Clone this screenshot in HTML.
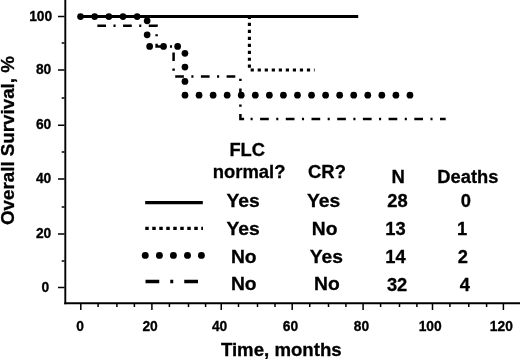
<!DOCTYPE html><html><head><meta charset="utf-8"><title>Overall Survival</title>
<style>html,body{margin:0;padding:0;background:#fff}svg{display:block}text{stroke:#000;stroke-width:0.3px;font-family:"Liberation Sans",Arial,Helvetica,sans-serif;font-weight:bold;fill:#000}</style></head><body>
<svg width="520" height="359" viewBox="0 0 520 359">
<rect width="520" height="359" fill="#fff"/>
<g stroke="#000" fill="none">
<path d="M65.3 0V304.3" stroke-width="1.9"/>
<path d="M64.3 303.35H520" stroke-width="2"/>
<path d="M58 287.50H64.5M61.7 260.90H64.5M58 234.00H64.5M61.7 207.10H64.5M58 179.00H64.5M61.7 152.10H64.5M58 125.25H64.5M61.7 98.10H64.5M58 70.00H64.5M61.7 43.10H64.5M58 16.50H64.5" stroke-width="1.5"/>
<path d="M80.80 303.5V310M98.10 303.5V307M116.90 303.5V307M134.40 303.5V307M151.90 303.5V310M169.40 303.5V307M188.50 303.5V307M205.60 303.5V307M221.25 303.5V310M238.50 303.5V307M257.50 303.5V307M275.00 303.5V307M292.20 303.5V310M309.75 303.5V307M328.50 303.5V307M345.90 303.5V307M363.10 303.5V310M380.60 303.5V307M399.50 303.5V307M416.90 303.5V307M432.50 303.5V310M449.90 303.5V307M468.80 303.5V307M486.60 303.5V307M503.40 303.5V310" stroke-width="1.5"/>
</g>
<text x="49.20" y="291.60" font-size="13.8" text-anchor="end">0</text>
<text x="51.30" y="238.10" font-size="13.8" text-anchor="end">20</text>
<text x="51.30" y="183.10" font-size="13.8" text-anchor="end">40</text>
<text x="51.30" y="129.35" font-size="13.8" text-anchor="end">60</text>
<text x="51.30" y="74.10" font-size="13.8" text-anchor="end">80</text>
<text x="52.20" y="20.60" font-size="13.8" text-anchor="end">100</text>
<text x="80.00" y="331.0" font-size="13.8" text-anchor="middle">0</text>
<text x="150.10" y="331.0" font-size="13.8" text-anchor="middle">20</text>
<text x="219.60" y="331.0" font-size="13.8" text-anchor="middle">40</text>
<text x="290.40" y="331.0" font-size="13.8" text-anchor="middle">60</text>
<text x="361.50" y="331.0" font-size="13.8" text-anchor="middle">80</text>
<text x="430.20" y="331.0" font-size="13.8" text-anchor="middle">100</text>
<text x="501.30" y="331.0" font-size="13.8" text-anchor="middle">120</text>
<text transform="translate(14.4 225) rotate(-90)" font-size="18.8" textLength="168.9" lengthAdjust="spacingAndGlyphs">Overall Survival, %</text>
<text x="220.9" y="355.6" font-size="18.8" textLength="120.8" lengthAdjust="spacingAndGlyphs">Time, months</text>
<g stroke="#000" fill="none">
<path transform="translate(0.1 0.25)" d="M97.25 25.6H156.5V46.25H173.5V76.25H240.3V118.85H244.1" stroke-width="2.5" stroke-dasharray="8.7 7.45 2.1 7.45"/>
<path transform="translate(0.1 0.25)" d="M244.1 118.85H445.6" stroke-width="2.5" stroke-dasharray="8.7 7.45 2.1 7.45" stroke-dashoffset="9.8"/>
<path d="M249.4 15.9V67.9" stroke-width="3.1" stroke-dasharray="3.2 3.76"/>
<path d="M250.65 70H314.6" stroke-width="3.1" stroke-dasharray="3.2 3.83"/>
<path d="M80.25 16.5H358.2" stroke-width="3.2"/>
</g>
<g fill="#000">
<circle cx="80.50" cy="16.60" r="3.35"/>
<circle cx="94.65" cy="16.60" r="3.35"/>
<circle cx="108.85" cy="16.60" r="3.35"/>
<circle cx="123.00" cy="16.60" r="3.35"/>
<circle cx="137.15" cy="16.60" r="3.35"/>
<circle cx="147.15" cy="20.80" r="3.35"/>
<circle cx="147.15" cy="34.80" r="3.35"/>
<circle cx="149.65" cy="46.45" r="3.35"/>
<circle cx="163.55" cy="46.45" r="3.35"/>
<circle cx="177.65" cy="46.45" r="3.35"/>
<circle cx="184.95" cy="53.30" r="3.35"/>
<circle cx="184.95" cy="67.10" r="3.35"/>
<circle cx="184.95" cy="81.45" r="3.35"/>
<circle cx="185.00" cy="95.20" r="3.35"/>
<circle cx="199.06" cy="95.20" r="3.35"/>
<circle cx="213.12" cy="95.20" r="3.35"/>
<circle cx="227.18" cy="95.20" r="3.35"/>
<circle cx="241.24" cy="95.20" r="3.35"/>
<circle cx="255.30" cy="95.20" r="3.35"/>
<circle cx="269.36" cy="95.20" r="3.35"/>
<circle cx="283.42" cy="95.20" r="3.35"/>
<circle cx="297.48" cy="95.20" r="3.35"/>
<circle cx="311.54" cy="95.20" r="3.35"/>
<circle cx="325.60" cy="95.20" r="3.35"/>
<circle cx="339.66" cy="95.20" r="3.35"/>
<circle cx="353.72" cy="95.20" r="3.35"/>
<circle cx="367.78" cy="95.20" r="3.35"/>
<circle cx="381.84" cy="95.20" r="3.35"/>
<circle cx="395.90" cy="95.20" r="3.35"/>
<circle cx="409.96" cy="95.20" r="3.35"/>
<circle cx="145.25" cy="255.4" r="3.45"/>
<circle cx="159.40" cy="255.4" r="3.45"/>
<circle cx="173.40" cy="255.4" r="3.45"/>
<circle cx="187.50" cy="255.4" r="3.45"/>
<circle cx="201.40" cy="255.4" r="3.45"/>
</g>
<g stroke="#000" fill="none">
<path d="M145.2 202.6H202.8" stroke-width="3.4"/>
<path d="M145.25 228.3H203" stroke-width="3.3" stroke-dasharray="3.5 3.5"/>
<path d="M145.5 281.5H198.2" stroke-width="3.5" stroke-dasharray="13.75 11 3 11"/>
</g>
<text transform="translate(247.20 155.70) scale(0.975 1)" font-size="18.8" text-anchor="middle">FLC</text>
<text transform="translate(249.10 178.40) scale(0.980 1)" font-size="18.8" text-anchor="middle">normal?</text>
<text transform="translate(327.00 178.00) scale(0.980 1)" font-size="18.8" text-anchor="middle">CR?</text>
<text transform="translate(398.30 182.70) scale(0.985 1)" font-size="18.8" text-anchor="middle">N</text>
<text transform="translate(467.85 182.80) scale(0.975 1)" font-size="18.8" text-anchor="middle">Deaths</text>
<text transform="translate(243.00 206.80) scale(1.025 1)" font-size="18.8" text-anchor="middle">Yes</text>
<text transform="translate(323.50 206.80) scale(1.025 1)" font-size="18.8" text-anchor="middle">Yes</text>
<text transform="translate(397.50 207.10) scale(0.975 1)" font-size="18.8" text-anchor="middle">28</text>
<text transform="translate(465.90 207.10) scale(0.975 1)" font-size="18.8" text-anchor="middle">0</text>
<text transform="translate(243.00 234.60) scale(1.025 1)" font-size="18.8" text-anchor="middle">Yes</text>
<text transform="translate(324.60 234.60) scale(1.025 1)" font-size="18.8" text-anchor="middle">No</text>
<text transform="translate(395.40 234.90) scale(0.975 1)" font-size="18.8" text-anchor="middle">13</text>
<text transform="translate(462.20 234.90) scale(0.975 1)" font-size="18.8" text-anchor="middle">1</text>
<text transform="translate(243.80 262.50) scale(1.025 1)" font-size="18.8" text-anchor="middle">No</text>
<text transform="translate(326.25 262.50) scale(1.025 1)" font-size="18.8" text-anchor="middle">Yes</text>
<text transform="translate(395.40 262.80) scale(0.975 1)" font-size="18.8" text-anchor="middle">14</text>
<text transform="translate(462.80 262.80) scale(0.975 1)" font-size="18.8" text-anchor="middle">2</text>
<text transform="translate(243.80 290.30) scale(1.025 1)" font-size="18.8" text-anchor="middle">No</text>
<text transform="translate(326.90 290.30) scale(1.025 1)" font-size="18.8" text-anchor="middle">No</text>
<text transform="translate(397.10 290.60) scale(0.975 1)" font-size="18.8" text-anchor="middle">32</text>
<text transform="translate(464.80 290.60) scale(0.975 1)" font-size="18.8" text-anchor="middle">4</text>
</svg></body></html>
